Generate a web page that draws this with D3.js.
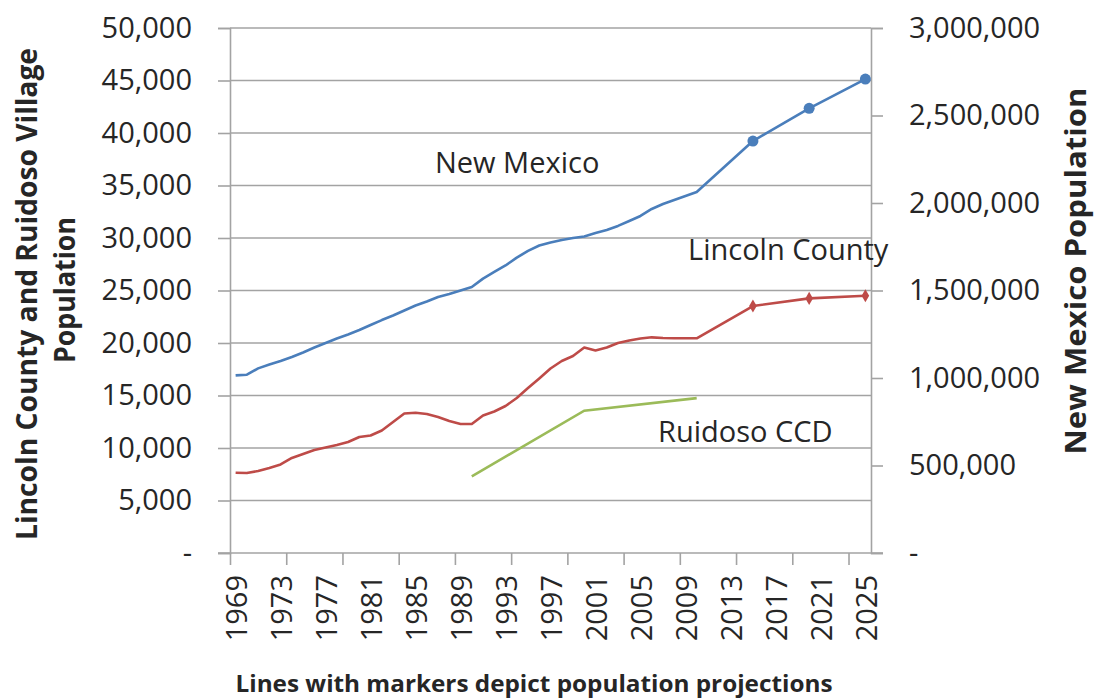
<!DOCTYPE html>
<html>
<head>
<meta charset="utf-8">
<script src="https://cdn.jsdelivr.net/npm/d3@7"></script>
<style>
  body { margin: 0; background: #fff; }
  text { font-family: "Open Sans", sans-serif; fill: #262626; }
  .title { font-weight: bold; }
</style>
</head>
<body>
<svg id="chart" width="1094" height="700"></svg>
<script>
// observed years (annual series)
var years = [1969, 1970, 1971, 1972, 1973, 1974, 1975, 1976, 1977, 1978,
             1979, 1980, 1981, 1982, 1983, 1984, 1985, 1986, 1987, 1988,
             1989, 1990, 1991, 1992, 1993, 1994, 1995, 1996, 1997, 1998,
             1999, 2000, 2001, 2002, 2003, 2004, 2005, 2006, 2007, 2008,
             2009, 2010];
var projYears = [2015, 2020, 2025];

// New Mexico (right axis)
var nmPop = [1015000, 1019000, 1055000, 1077000, 1097000, 1120000, 1146000, 1174000, 1200000, 1226000,
             1249000, 1274000, 1303000, 1331000, 1357000, 1386000, 1414000, 1437000, 1463000, 1480000,
             1500000, 1520000, 1568000, 1606000, 1643000, 1688000, 1726000, 1757000, 1774000, 1789000,
             1800000, 1809000, 1829000, 1846000, 1869000, 1897000, 1926000, 1966000, 1994000, 2017000,
             2040000, 2063000];
var nmProj = [2354000, 2541000, 2708000];

// Lincoln County (left axis)
var lincolnPop = [7650, 7620, 7810, 8100, 8430, 9050, 9430, 9810, 10050, 10290,
                  10570, 11050, 11190, 11670, 12480, 13290, 13360, 13240, 12950, 12570,
                  12290, 12290, 13100, 13480, 14000, 14760, 15710, 16620, 17570, 18290,
                  18760, 19570, 19290, 19570, 20000, 20240, 20430, 20540, 20480, 20450,
                  20450, 20450];
var lincolnProj = [23520, 24250, 24500];

// Ruidoso CCD (left axis)
var ruidosoYears = [1990, 2000, 2010];
var ruidosoPop = [7300, 13550, 14750];

var leftTicks = [0, 5000, 10000, 15000, 20000, 25000, 30000, 35000, 40000, 45000, 50000];
var rightTicks = [0, 500000, 1000000, 1500000, 2000000, 2500000, 3000000];
var yearLabels = [1969, 1973, 1977, 1981, 1985, 1989, 1993, 1997, 2001, 2005, 2009, 2013, 2017, 2021, 2025];
var tickBounds = [1968.5, 1973.5, 1978.5, 1983.5, 1988.5, 1993.5, 1998.5, 2003.5, 2008.5, 2013.5, 2018.5, 2023.5];

var svg = d3.select("#chart");
var plot = {left: 230, right: 871, top: 28, bottom: 553};
var gridColor = "#a3a3a3";

var x = d3.scaleLinear().domain([1968.5, 2025.5]).range([plot.left, plot.right]);
var yL = d3.scaleLinear().domain([0, 50000]).range([plot.bottom, plot.top]);
var yR = d3.scaleLinear().domain([0, 3000000]).range([plot.bottom, plot.top]);

var fmt = d3.format(",");
function lbl(d) { return d === 0 ? "-" : fmt(d); }

// horizontal gridlines
svg.append("g").selectAll("line")
    .data(leftTicks.filter(function (d) { return d > 0; }))
    .enter().append("line")
    .attr("x1", plot.left).attr("x2", plot.right)
    .attr("y1", function (d) { return yL(d); })
    .attr("y2", function (d) { return yL(d); })
    .attr("stroke", gridColor).attr("stroke-width", 1.6);

// left axis
var gL = svg.append("g").attr("transform", "translate(" + plot.left + ",0)")
    .call(d3.axisLeft(yL).tickValues(leftTicks).tickSize(12).tickPadding(26).tickFormat(lbl));
gL.select(".domain").attr("stroke", gridColor).attr("stroke-width", 1.6);
gL.selectAll(".tick line").attr("stroke", gridColor).attr("stroke-width", 1.6);
gL.selectAll("text").style("font-size", "29px").attr("fill", "#262626");

// right axis
var gR = svg.append("g").attr("transform", "translate(" + plot.right + ",0)")
    .call(d3.axisRight(yR).tickValues(rightTicks).tickSize(12).tickPadding(26).tickFormat(lbl));
gR.select(".domain").attr("stroke", gridColor).attr("stroke-width", 1.6);
gR.selectAll(".tick line").attr("stroke", gridColor).attr("stroke-width", 1.6);
gR.selectAll("text").style("font-size", "29px").attr("fill", "#262626");

// bottom axis
svg.append("line")
    .attr("x1", plot.left - 12).attr("x2", plot.right + 12)
    .attr("y1", plot.bottom).attr("y2", plot.bottom)
    .attr("stroke", gridColor).attr("stroke-width", 1.6);
var gB = svg.append("g").attr("transform", "translate(0," + plot.bottom + ")")
    .call(d3.axisBottom(x).tickValues(tickBounds).tickSize(12).tickFormat(""));
gB.select(".domain").remove();
gB.selectAll(".tick line").attr("stroke", gridColor).attr("stroke-width", 1.6);

svg.append("g").selectAll("text")
    .data(yearLabels)
    .enter().append("text")
    .attr("transform", function (d) { return "translate(" + x(d) + "," + (plot.bottom + 22) + ") rotate(-90)"; })
    .attr("text-anchor", "end")
    .attr("dominant-baseline", "central")
    .style("font-size", "29px")
    .text(function (d) { return d; });

// lines
var nmData = years.map(function (d, i) { return [d, nmPop[i]]; })
    .concat(projYears.map(function (d, i) { return [d, nmProj[i]]; }));
var lcData = years.map(function (d, i) { return [d, lincolnPop[i]]; })
    .concat(projYears.map(function (d, i) { return [d, lincolnProj[i]]; }));
var ruData = ruidosoYears.map(function (d, i) { return [d, ruidosoPop[i]]; });

var lineL = d3.line().x(function (d) { return x(d[0]); }).y(function (d) { return yL(d[1]); });
var lineR = d3.line().x(function (d) { return x(d[0]); }).y(function (d) { return yR(d[1]); });

svg.append("path").datum(ruData).attr("d", lineL)
    .attr("fill", "none").attr("stroke", "#9bbb59").attr("stroke-width", 2.6);
svg.append("path").datum(lcData).attr("d", lineL)
    .attr("fill", "none").attr("stroke", "#be4b48").attr("stroke-width", 2.6).attr("stroke-linejoin", "round");
svg.append("path").datum(nmData).attr("d", lineR)
    .attr("fill", "none").attr("stroke", "#4a7ebb").attr("stroke-width", 2.6).attr("stroke-linejoin", "round");

// projection markers
svg.append("g").selectAll("circle")
    .data(projYears)
    .enter().append("circle")
    .attr("cx", function (d) { return x(d); })
    .attr("cy", function (d, i) { return yR(nmProj[i]); })
    .attr("r", 5.5)
    .attr("fill", "#4a7ebb");

svg.append("g").selectAll("path")
    .data(projYears)
    .enter().append("path")
    .attr("d", d3.symbol().type(d3.symbolDiamond).size(50))
    .attr("transform", function (d, i) { return "translate(" + x(d) + "," + yL(lincolnProj[i]) + ")"; })
    .attr("fill", "#be4b48");

// series labels
function note(txt, xp, yp) {
    svg.append("text").attr("x", xp).attr("y", yp).style("font-size", "29px").text(txt);
}
note("New Mexico", 435, 173);
note("Lincoln County", 688, 260);
note("Ruidoso CCD", 658, 442);

// axis titles
svg.append("text").attr("class", "title")
    .attr("transform", "translate(37,294) rotate(-90)")
    .attr("text-anchor", "middle").style("font-size", "29px")
    .attr("textLength", 492).attr("lengthAdjust", "spacingAndGlyphs")
    .text("Lincoln County and Ruidoso Village");
svg.append("text").attr("class", "title")
    .attr("transform", "translate(75,290) rotate(-90)")
    .attr("text-anchor", "middle").style("font-size", "29px")
    .attr("textLength", 146).attr("lengthAdjust", "spacingAndGlyphs")
    .text("Population");
svg.append("text").attr("class", "title")
    .attr("transform", "translate(1086,271) rotate(-90)")
    .attr("text-anchor", "middle").style("font-size", "28px")
    .attr("textLength", 367).attr("lengthAdjust", "spacingAndGlyphs")
    .text("New Mexico Population");
svg.append("text").attr("class", "title")
    .attr("x", 534).attr("y", 692)
    .attr("text-anchor", "middle").style("font-size", "23px")
    .attr("textLength", 597).attr("lengthAdjust", "spacingAndGlyphs")
    .text("Lines with markers depict population projections");
</script>
</body>
</html>
